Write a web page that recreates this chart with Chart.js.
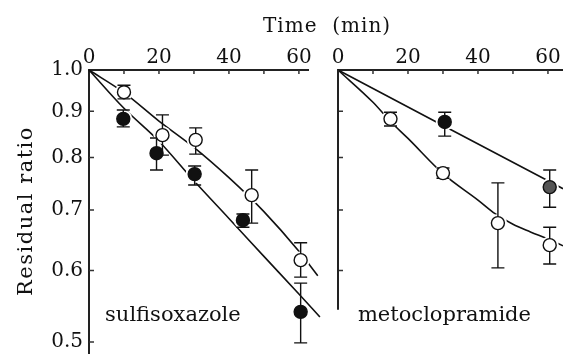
<!DOCTYPE html>
<html>
<head>
<meta charset="utf-8">
<script src="https://cdn.jsdelivr.net/npm/chart.js@4/dist/chart.umd.min.js"></script>
<style>
  html, body { margin: 0; padding: 0; background: #fff; }
  #wrap { position: relative; width: 563px; height: 354px; overflow: hidden; }
  #wrap canvas { position: absolute; top: 0; }
  #left { left: 0; }
  #right { left: 300px; }
</style>
</head>
<body>
<div id="wrap">
  <canvas id="left" width="563" height="354"></canvas>
  <canvas id="right" width="263" height="354"></canvas>
</div>
<script>
// ---- data ----
const xTickLabels = [0, 20, 40, 60];
const xMinorTicks = [10, 20, 30, 40, 50, 60];
const yTickLabels = [0.5, 0.6, 0.7, 0.8, 0.9, 1.0];

// sulfisoxazole — open / filled circles, mean with error bars (min)
const sulfOpenT  = [10, 21, 30.5, 46.5, 60.5];
const sulfOpenY  = [0.945, 0.847, 0.837, 0.727, 0.616];
const sulfOpenLo = [0.929, 0.805, 0.807, 0.677, 0.590];
const sulfOpenHi = [0.962, 0.892, 0.863, 0.775, 0.644];
const sulfFillT  = [9.8, 19.3, 30.2, 44, 60.5];
const sulfFillY  = [0.883, 0.809, 0.767, 0.682, 0.540];
const sulfFillLo = [0.865, 0.775, 0.746, 0.670, 0.499];
const sulfFillHi = [0.903, 0.841, 0.783, 0.693, 0.581];
// fitted curves
const sulfOpenFitT = [0, 10, 20, 30, 40, 50, 60, 65.4];
const sulfOpenFitY = [1.0, 0.944, 0.878, 0.821, 0.760, 0.697, 0.630, 0.592];
const sulfFillFitT = [0, 10, 20, 30, 40, 50, 60, 66];
const sulfFillFitY = [1.0, 0.907, 0.834, 0.754, 0.685, 0.622, 0.565, 0.533];

// metoclopramide
const metoOpenT  = [15, 30, 45.7, 60.5];
const metoOpenY  = [0.883, 0.769, 0.677, 0.640];
const metoOpenLo = [0.867, 0.759, 0.604, 0.610];
const metoOpenHi = [0.898, 0.779, 0.750, 0.670];
const metoFillT  = [30.5, 60.5];
const metoFillY  = [0.876, 0.742];
const metoFillLo = [0.845, 0.705];
const metoFillHi = [0.898, 0.775];
const metoOpenFitT = [0, 10, 15, 20, 30, 40, 45, 50, 55, 60, 64.3];
const metoOpenFitY = [1.0, 0.921, 0.877, 0.840, 0.768, 0.718, 0.693, 0.675, 0.662, 0.650, 0.639];
const metoFillFitT = [0, 30, 60, 64.3];
const metoFillFitY = [1.0, 0.868, 0.754, 0.739];

const INK = "#111";
const SERIF = "'DejaVu Serif', 'Liberation Serif', serif";
const CAP = 6.5; // error bar cap half-width

const pts = (t, v) => t.map((x, i) => ({ x, y: v[i] }));

function fit(t, v) {
  return { data: pts(t, v), showLine: true, borderColor: INK, borderWidth: 1.6,
           pointRadius: 0, cubicInterpolationMode: "monotone", clip: false, order: 3 };
}
function halo(t, v) {
  return { data: pts(t, v), pointRadius: 9, pointBorderWidth: 0,
           pointBackgroundColor: "#fff", pointBorderColor: "#fff", clip: false, order: 2 };
}
function marker(t, v, lo, hi, fill) {
  return { data: pts(t, v), marker: true, lo, hi, pointRadius: 6.5, pointBorderWidth: 1.4,
           pointBackgroundColor: fill, pointBorderColor: INK, clip: false, order: 1 };
}

// error bars go in once, after the lines/halos and before the markers
const errorBars = {
  id: "errorBars",
  beforeDatasetsDraw(chart) { chart.$barsDone = false; },
  beforeDatasetDraw(chart, args) {
    const ds = chart.data.datasets[args.index];
    if (!ds.marker || chart.$barsDone) return;
    chart.$barsDone = true;
    const { ctx, scales: { x, y } } = chart;
    ctx.save();
    ctx.strokeStyle = INK;
    ctx.lineWidth = 1.4;
    chart.data.datasets.forEach((d) => {
      if (!d.lo) return;
      d.data.forEach((p, i) => {
        const px = x.getPixelForValue(p.x);
        const y1 = y.getPixelForValue(d.lo[i]), y2 = y.getPixelForValue(d.hi[i]);
        ctx.beginPath();
        ctx.moveTo(px, y1); ctx.lineTo(px, y2);
        ctx.moveTo(px - CAP, y1); ctx.lineTo(px + CAP, y1);
        ctx.moveTo(px - CAP, y2); ctx.lineTo(px + CAP, y2);
        ctx.stroke();
      });
    });
    ctx.restore();
  },
};

// inward tick marks, optional y axis line, and free text.
// config kept in a closure (plugin options would get resolved/indexed by Chart.js)
function decor(cfg) {
  return {
    id: "decor",
    afterDraw(chart) {
      const { ctx, chartArea, scales: { x, y } } = chart;
      ctx.save();
      ctx.strokeStyle = "#333";
      ctx.lineWidth = 1.5;
      ctx.beginPath();
      xMinorTicks.forEach((v) => {
        const px = x.getPixelForValue(v);
        ctx.moveTo(px, chartArea.top); ctx.lineTo(px, chartArea.top + 4);
      });
      yTickLabels.forEach((v) => {
        if (v >= 1 || v < cfg.axisBottom) return;
        const py = y.getPixelForValue(v);
        ctx.moveTo(chartArea.left, py); ctx.lineTo(chartArea.left + 5, py);
      });
      ctx.stroke();
      if (cfg.drawYAxis) {
        ctx.lineWidth = 2;
        ctx.strokeStyle = "#222";
        ctx.beginPath();
        ctx.moveTo(chartArea.left, y.getPixelForValue(1.0));
        ctx.lineTo(chartArea.left, y.getPixelForValue(cfg.axisBottom));
        ctx.stroke();
      }
      ctx.fillStyle = INK;
      ctx.textBaseline = "alphabetic";
      cfg.texts.forEach((t) => {
        ctx.save();
        ctx.font = t.font;
        ctx.letterSpacing = t.spacing || "0px";
        ctx.textAlign = t.align || "left";
        const tx = t.at ? x.getPixelForValue(t.at[0]) : t.pos[0];
        const ty = t.at ? y.getPixelForValue(t.at[1]) : t.pos[1];
        ctx.translate(tx, ty);
        if (t.rotate) ctx.rotate(t.rotate);
        ctx.fillText(t.text, 0, 0);
        ctx.restore();
      });
      ctx.restore();
    },
  };
}

function scalesFor(xMax, yWidth, showY) {
  return {
    x: {
      type: "linear", position: "top", min: 0, max: xMax,
      afterBuildTicks: (s) => { s.ticks = xTickLabels.map((v) => ({ value: v })); },
      afterFit: (s) => { s.height = 70; s.paddingLeft = 0; s.paddingRight = 0; },
      ticks: { color: INK, font: { family: SERIF, size: 20 }, padding: 0, maxRotation: 0, autoSkip: false },
      grid: { display: false, drawTicks: false },
      border: { display: true, color: "#222", width: 2 },
    },
    y: {
      type: "logarithmic", min: 0.485, max: 1.0,
      afterBuildTicks: (s) => { s.ticks = yTickLabels.map((v) => ({ value: v })); },
      afterFit: (s) => { s.width = yWidth; s.paddingTop = 0; s.paddingBottom = 0; },
      ticks: { display: showY, color: INK, font: { family: SERIF, size: 20 }, padding: 6,
               callback: (v) => Number(v).toFixed(1) },
      grid: { display: false, drawTicks: false },
      border: { display: showY, color: "#222", width: 2 },
    },
  };
}

const baseOptions = { responsive: false, animation: false, events: [] };

new Chart(document.getElementById("left"), {
  type: "scatter",
  data: {
    datasets: [
      fit(sulfOpenFitT, sulfOpenFitY),
      fit(sulfFillFitT, sulfFillFitY),
      halo(sulfOpenT, sulfOpenY),
      halo(sulfFillT, sulfFillY),
      marker(sulfOpenT, sulfOpenY, sulfOpenLo, sulfOpenHi, "#fff"),
      marker(sulfFillT, sulfFillY, sulfFillLo, sulfFillHi, INK),
    ],
  },
  options: {
    ...baseOptions,
    layout: { autoPadding: false, padding: { left: 0, top: 0, right: 255, bottom: 0 } },
    scales: scalesFor(62.6, 89, true),
    plugins: { legend: { display: false }, tooltip: { enabled: false } },
  },
  plugins: [errorBars, decor({
    axisBottom: 0.485,
    texts: [
      { text: "Time  (min)", font: `20px ${SERIF}`, spacing: "1px", pos: [263, 32] },
      { text: "Residual ratio", font: `21px ${SERIF}`, spacing: "1.5px", align: "center",
        pos: [32, 211], rotate: -Math.PI / 2 },
      { text: "sulfisoxazole", font: `21px ${SERIF}`, at: [4.6, 0.5276] },
    ],
  })],
});

new Chart(document.getElementById("right"), {
  type: "scatter",
  data: {
    datasets: [
      fit(metoOpenFitT, metoOpenFitY),
      fit(metoFillFitT, metoFillFitY),
      halo(metoOpenT, metoOpenY),
      halo(metoFillT, metoFillY),
      marker(metoOpenT, metoOpenY, metoOpenLo, metoOpenHi, "#fff"),
      marker(metoFillT, metoFillY, metoFillLo, metoFillHi, [INK, "#555"]),
    ],
  },
  options: {
    ...baseOptions,
    layout: { autoPadding: false, padding: 0 },
    scales: scalesFor(64.3, 38, false),
    plugins: { legend: { display: false }, tooltip: { enabled: false } },
  },
  plugins: [errorBars, decor({
    axisBottom: 0.543,
    drawYAxis: true,
    texts: [
      { text: "metoclopramide", font: `21px ${SERIF}`, at: [5.7, 0.528] },
    ],
  })],
});
</script>
</body>
</html>
